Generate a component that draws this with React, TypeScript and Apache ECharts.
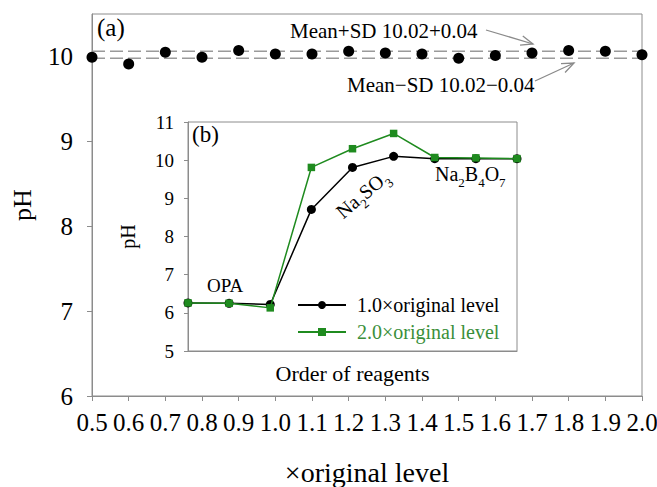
import React, { useEffect, useRef } from 'react';
import * as echarts from 'echarts';

// ---- data ----
const levels = [0.5, 0.6, 0.7, 0.8, 0.9, 1.0, 1.1, 1.2, 1.3, 1.4, 1.5, 1.6, 1.7, 1.8, 1.9, 2.0];
const phValues = [9.99, 9.91, 10.05, 9.99, 10.07, 10.03, 10.03, 10.06, 10.04, 10.03, 9.98, 10.01, 10.04, 10.07, 10.06, 10.02];
const MEAN = 10.02;
const SD = 0.04;
const mainYTicks = [6, 7, 8, 9, 10];

const reagentSteps = ['1', '2', '3', '4', '5', '6', '7', '8', '9'];
const ph1x = [6.26, 6.25, 6.22, 8.71, 9.81, 10.1, 10.04, 10.04, 10.04];
const ph2x = [6.26, 6.25, 6.13, 9.81, 10.3, 10.7, 10.07, 10.06, 10.04];
const insetYTicks = [5, 6, 7, 8, 9, 10, 11];
const seriesNames = ['1.0×original level', '2.0×original level'];

const FONT = "'Liberation Serif', 'Times New Roman', serif";
const GRAY = '#8c8c8c';
const GREEN = '#1f8b1f';
const GREEN_TEXT = '#3a8f3a';

function arrow(x1: number, y1: number, x2: number, y2: number) {
  const ang = Math.atan2(y2 - y1, x2 - x1);
  const L = 13;
  const a = 0.38;
  const color = '#8a8a8a';
  return {
    type: 'group',
    z: 20,
    children: [
      { type: 'line', shape: { x1, y1, x2, y2 }, style: { stroke: color, lineWidth: 1.3 } },
      {
        type: 'polyline',
        shape: {
          points: [
            [x2 - L * Math.cos(ang - a), y2 - L * Math.sin(ang - a)],
            [x2, y2],
            [x2 - L * Math.cos(ang + a), y2 - L * Math.sin(ang + a)],
          ],
        },
        style: { stroke: color, fill: null, lineWidth: 1.3 },
      },
    ],
  };
}

const subRich = {
  n: { fontFamily: FONT, fontSize: 20, lineHeight: 25, verticalAlign: 'top', color: '#000' },
  s: { fontFamily: FONT, fontSize: 13, lineHeight: 16, verticalAlign: 'bottom', color: '#000' },
};

export default function App() {
  const ref = useRef<HTMLDivElement>(null);
  useEffect(() => {
    if (!ref.current) return;
    const chart = echarts.init(ref.current, undefined, { renderer: 'svg' });
    const first = levels[0];
    const last = levels[levels.length - 1];
    const option: any = {
      animation: false,
      backgroundColor: '#fff',
      grid: [
        { left: 92, right: 15, top: 14, bottom: 91, show: true, borderColor: GRAY, borderWidth: 1, containLabel: false, outerBoundsMode: 'none' },
        { left: 188, right: 140, top: 122, bottom: 136, show: true, borderColor: GRAY, borderWidth: 1, backgroundColor: '#fff', containLabel: false, outerBoundsMode: 'none' },
      ],
      xAxis: [
        {
          type: 'value', gridIndex: 0, min: 0.5, max: 2.0, interval: 0.1,
          axisLine: { lineStyle: { color: GRAY } },
          axisTick: { show: true, inside: false, length: 5, lineStyle: { color: GRAY } },
          axisLabel: { fontFamily: FONT, fontSize: 25, color: '#000', margin: 14, formatter: (v: number) => v.toFixed(1) },
          splitLine: { show: false },
          name: '×original level', nameLocation: 'middle', nameGap: 62,
          nameTextStyle: { fontFamily: FONT, fontSize: 28, color: '#000' },
        },
        {
          type: 'category', gridIndex: 1, data: reagentSteps, boundaryGap: false,
          axisLine: { lineStyle: { color: GRAY } },
          axisTick: { show: false }, axisLabel: { show: false }, splitLine: { show: false },
          name: 'Order of reagents', nameLocation: 'middle', nameGap: 11,
          nameTextStyle: { fontFamily: FONT, fontSize: 22, color: '#000' },
        },
      ],
      yAxis: [
        {
          type: 'value', gridIndex: 0, min: 6, max: 10.5, interval: 1,
          axisLine: { show: true, lineStyle: { color: GRAY } },
          axisTick: { show: true, length: 5, lineStyle: { color: GRAY }, customValues: mainYTicks },
          axisLabel: { fontFamily: FONT, fontSize: 25, color: '#000', margin: 19, customValues: mainYTicks },
          splitLine: { show: false },
          name: 'pH', nameLocation: 'middle', nameGap: 57,
          nameTextStyle: { fontFamily: FONT, fontSize: 26, color: '#000' },
        },
        {
          type: 'value', gridIndex: 1, min: 5, max: 11, interval: 1,
          axisLine: { show: true, lineStyle: { color: GRAY } },
          axisTick: { show: true, length: 4, lineStyle: { color: GRAY }, customValues: insetYTicks },
          axisLabel: { fontFamily: FONT, fontSize: 19, color: '#000', margin: 14, customValues: insetYTicks },
          splitLine: { show: false },
          name: 'pH', nameLocation: 'middle', nameGap: 50,
          nameTextStyle: { fontFamily: FONT, fontSize: 20, color: '#000' },
        },
      ],
      legend: {
        data: [
          { name: seriesNames[0], textStyle: { color: '#000' } },
          { name: seriesNames[1], textStyle: { color: GREEN_TEXT } },
        ],
        orient: 'vertical', left: 297, top: 295, padding: 0,
        itemWidth: 48, itemHeight: 10, itemGap: 7,
        textStyle: { fontFamily: FONT, fontSize: 20, padding: [0, 0, 0, 6] },
      },
      series: [
        {
          type: 'line', xAxisIndex: 0, yAxisIndex: 0, showSymbol: false, symbol: 'none', z: 1, silent: true,
          lineStyle: { type: [13, 5], color: '#9a9a9a', width: 1.5 },
          data: [[first, MEAN + SD], [last, MEAN + SD]],
        },
        {
          type: 'line', xAxisIndex: 0, yAxisIndex: 0, showSymbol: false, symbol: 'none', z: 1, silent: true,
          lineStyle: { type: [13, 5], color: '#9a9a9a', width: 1.5 },
          data: [[first, MEAN - SD], [last, MEAN - SD]],
        },
        {
          type: 'scatter', xAxisIndex: 0, yAxisIndex: 0, symbolSize: 11, z: 3,
          itemStyle: { color: '#000', opacity: 1 },
          data: levels.map((x, i) => [x, phValues[i]]),
        },
        {
          name: seriesNames[0], type: 'line', xAxisIndex: 1, yAxisIndex: 1,
          symbol: 'circle', symbolSize: 9, z: 5,
          itemStyle: { color: '#000' }, lineStyle: { color: '#000', width: 1.5 },
          data: ph1x,
        },
        {
          name: seriesNames[1], type: 'line', xAxisIndex: 1, yAxisIndex: 1,
          symbol: 'rect', symbolSize: 7.5, z: 6,
          itemStyle: { color: GREEN }, lineStyle: { color: GREEN, width: 1.5 },
          data: ph2x,
        },
      ],
      graphic: [
        { type: 'text', left: 97, top: 15, z: 20, style: { text: '(a)', fontFamily: FONT, fontSize: 25, fill: '#000' } },
        { type: 'text', left: 192, top: 123, z: 20, style: { text: '(b)', fontFamily: FONT, fontSize: 23, fill: '#000' } },
        { type: 'text', x: 290, y: 31, z: 20, style: { text: 'Mean+SD 10.02+0.04', fontFamily: FONT, fontSize: 21, fill: '#000', verticalAlign: 'middle' } },
        { type: 'text', x: 347, y: 85, z: 20, style: { text: 'Mean−SD 10.02−0.04', fontFamily: FONT, fontSize: 21, fill: '#000', verticalAlign: 'middle' } },
        arrow(486, 30, 533, 44),
        arrow(535, 81, 574, 63),
        { type: 'text', x: 207, y: 285, z: 20, style: { text: 'OPA', fontFamily: FONT, fontSize: 19, fill: '#000', verticalAlign: 'middle' } },
        {
          type: 'text', x: 364, y: 196, rotation: 0.7, z: 20,
          style: { text: '{n|Na}{s|2}{n|SO}{s|3}', rich: subRich, align: 'center', verticalAlign: 'middle' },
        },
        {
          type: 'text', x: 435, y: 176, z: 20,
          style: { text: '{n|Na}{s|2}{n|B}{s|4}{n|O}{s|7}', rich: subRich, verticalAlign: 'middle' },
        },
      ],
    };
    chart.setOption(option);
    return () => chart.dispose();
  }, []);
  return <div ref={ref} style={{ position: 'fixed', left: 0, top: 0, width: 657, height: 487 }} />;
}
